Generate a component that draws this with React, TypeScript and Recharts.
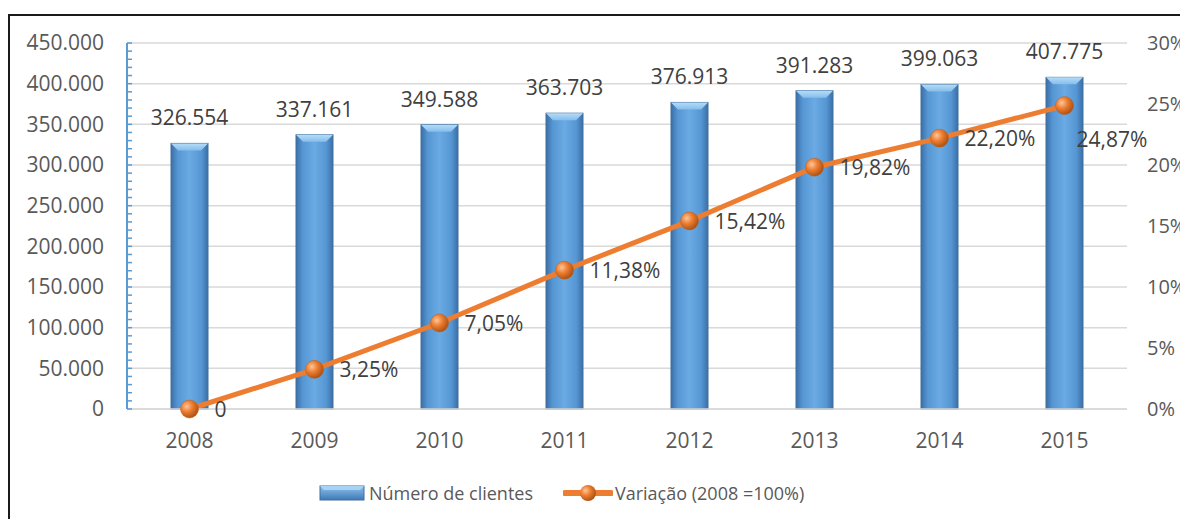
import {
  ComposedChart,
  Bar,
  Line,
  XAxis,
  YAxis,
  CartesianGrid,
  LabelList,
  Legend,
} from "recharts";

const years = ["2008", "2009", "2010", "2011", "2012", "2013", "2014", "2015"];
const clientes = [326554, 337161, 349588, 363703, 376913, 391283, 399063, 407775];
const variacao = [0, 3.25, 7.05, 11.38, 15.42, 19.82, 22.2, 24.87];
const leftTicks = [0, 50000, 100000, 150000, 200000, 250000, 300000, 350000, 400000, 450000];
const rightTicks = [0, 5, 10, 15, 20, 25, 30];
const minorTicks = Array.from({ length: 46 }, (_, i) => i * 10000);

const data = years.map((year, i) => ({
  year,
  clientes: clientes[i],
  variacao: variacao[i],
}));

const BLUE = "#5B9BD5";
const ORANGE = "#ED7D31";
const TEXT = "#595959";
const LABEL = "#404040";

function fmtThousands(v: number) {
  return String(Math.round(v)).replace(/\B(?=(\d{3})+(?!\d))/g, ".");
}

function fmtPct(v: number) {
  if (v === 0) return "0";
  return v.toFixed(2).replace(".", ",") + "%";
}

function BevelBar(props: any) {
  const { x, y, width, height } = props;
  if (!height || height <= 0) return null;
  const b = Math.min(7, width / 4);
  return (
    <g>
      <rect x={x} y={y} width={width} height={height} fill="url(#barGrad)" stroke="#41719C" strokeWidth={1} />
      <polygon
        points={`${x},${y} ${x + width},${y} ${x + width - b},${y + b} ${x + b},${y + b}`}
        fill="url(#bevelGrad)"
      />
    </g>
  );
}

function OrangeDot(props: any) {
  const { cx, cy } = props;
  if (cx == null || cy == null) return null;
  return <circle cx={cx} cy={cy} r={9} fill="url(#dotGrad)" stroke="#C55A11" strokeWidth={0.5} />;
}

// left axis tick: small inward mark every 10.000, label on the majors
function LeftTick(props: any) {
  const { x, y, payload } = props;
  const v = payload.value as number;
  const major = leftTicks.includes(v);
  return (
    <g>
      <line x1={x} x2={x + 5} y1={y} y2={y} stroke={BLUE} strokeWidth={1.5} />
      {major && (
        <text x={x - 23} y={y} dy="0.35em" textAnchor="end" fill={TEXT} fontSize={21}>
          {fmtThousands(v)}
        </text>
      )}
    </g>
  );
}

function PctLabel(props: any) {
  const { x, y, value, index } = props;
  const last = index === years.length - 1;
  return (
    <text
      x={x + (last ? 12 : 25)}
      y={y + (last ? 36 : 2)}
      fill={LABEL}
      fontSize={21}
      dominantBaseline="middle"
      textAnchor="start"
    >
      {fmtPct(value)}
    </text>
  );
}

function ChartLegend() {
  return (
    <div
      style={{
        height: 78,
        display: "flex",
        justifyContent: "flex-start",
        alignItems: "flex-start",
        paddingTop: 32,
        paddingLeft: 311,
        boxSizing: "border-box",
        fontSize: 18,
        color: TEXT,
      }}
    >
      <div style={{ display: "flex", alignItems: "center", height: 24 }}>
        <svg width={46} height={16} style={{ marginRight: 4 }}>
          <rect x={1} y={1} width={44} height={14} fill="url(#legendBar)" stroke="#41719C" />
          <polygon points="1,1 45,1 41,5 5,5" fill="#A9D3F5" />
        </svg>
        <span>Número de clientes</span>
      </div>
      <div style={{ display: "flex", alignItems: "center", height: 24, marginLeft: 30 }}>
        <svg width={50} height={20} style={{ marginRight: 2 }}>
          <defs>
            <radialGradient id="legendDot" cx="35%" cy="35%" r="70%">
              <stop offset="0%" stopColor="#FCC79A" />
              <stop offset="45%" stopColor={ORANGE} />
              <stop offset="100%" stopColor="#A94E10" />
            </radialGradient>
            <linearGradient id="legendBar" x1="0" y1="0" x2="0" y2="1">
              <stop offset="0%" stopColor="#8EC3EE" />
              <stop offset="100%" stopColor="#3F78B5" />
            </linearGradient>
          </defs>
          <line x1={2} y1={10} x2={48} y2={10} stroke={ORANGE} strokeWidth={6} strokeLinecap="round" />
          <circle cx={25} cy={10} r={8} fill="url(#legendDot)" />
        </svg>
        <span>Variação (2008 =100%)</span>
      </div>
    </div>
  );
}

export default function App() {
  return (
    <div
      style={{
        position: "relative",
        width: 1180,
        height: 519,
        overflow: "hidden",
        marginBottom: -8,
        marginRight: -8,
        fontFamily: "'Open Sans', sans-serif",
      }}
    >
      <ComposedChart
        width={1180}
        height={519}
        data={data}
        margin={{ top: 35, right: 0, bottom: 0, left: 0 }}
        barCategoryGap={0}
      >
        <defs>
          <linearGradient id="barGrad" x1="0" y1="0" x2="1" y2="0">
            <stop offset="0%" stopColor="#3A6FA8" />
            <stop offset="18%" stopColor="#5596D3" />
            <stop offset="50%" stopColor="#6BAAE3" />
            <stop offset="82%" stopColor="#5596D3" />
            <stop offset="100%" stopColor="#3A6FA8" />
          </linearGradient>
          <linearGradient id="bevelGrad" x1="0" y1="0" x2="0" y2="1">
            <stop offset="0%" stopColor="#B5DCF8" />
            <stop offset="100%" stopColor="#86BDEB" />
          </linearGradient>
          <radialGradient id="dotGrad" cx="35%" cy="35%" r="70%">
            <stop offset="0%" stopColor="#FCC79A" />
            <stop offset="45%" stopColor={ORANGE} />
            <stop offset="100%" stopColor="#A94E10" />
          </radialGradient>
        </defs>
        <CartesianGrid
          yAxisId="left"
          vertical={false}
          horizontalValues={leftTicks}
          stroke="#D9D9D9"
          strokeWidth={1.5}
        />
        <XAxis
          dataKey="year"
          height={40}
          axisLine={{ stroke: "#D9D9D9", strokeWidth: 1.5 }}
          tickLine={false}
          tickSize={6}
          tickMargin={18}
          tick={{ fill: TEXT, fontSize: 21 }}
        />
        <YAxis
          yAxisId="left"
          orientation="left"
          width={119}
          domain={[0, 450000]}
          ticks={minorTicks}
          interval={0}
          axisLine={{ stroke: BLUE, strokeWidth: 2 }}
          tickLine={false}
          tickSize={0}
          tickMargin={0}
          tick={(p: any) => <LeftTick key={p.index} {...p} />}
        />
        <YAxis
          yAxisId="right"
          orientation="right"
          width={61}
          domain={[0, 30]}
          ticks={rightTicks}
          tickFormatter={(v: number) => `${v}%`}
          axisLine={false}
          tickLine={false}
          tickMargin={14}
          tick={{ fill: TEXT, fontSize: 20 }}
        />
        <Legend verticalAlign="bottom" content={() => <ChartLegend />} />
        <Bar
          yAxisId="left"
          dataKey="clientes"
          name="Número de clientes"
          barSize={37}
          shape={(p: any) => <BevelBar {...p} />}
          isAnimationActive={false}
        >
          <LabelList
            dataKey="clientes"
            position="top"
            offset={18}
            formatter={(v: any) => fmtThousands(Number(v))}
            fill={LABEL}
            fontSize={21}
          />
        </Bar>
        <Line
          yAxisId="right"
          dataKey="variacao"
          name="Variação (2008 =100%)"
          stroke={ORANGE}
          strokeWidth={5}
          dot={(p: any) => <OrangeDot key={p.index} {...p} />}
          activeDot={false}
          isAnimationActive={false}
        >
          <LabelList dataKey="variacao" content={(p: any) => <PctLabel {...p} />} />
        </Line>
      </ComposedChart>
      <div
        style={{
          position: "absolute",
          left: 0,
          top: 6,
          width: 1250,
          height: 600,
          border: "2px solid #1A1A1A",
          pointerEvents: "none",
        }}
      />
    </div>
  );
}
